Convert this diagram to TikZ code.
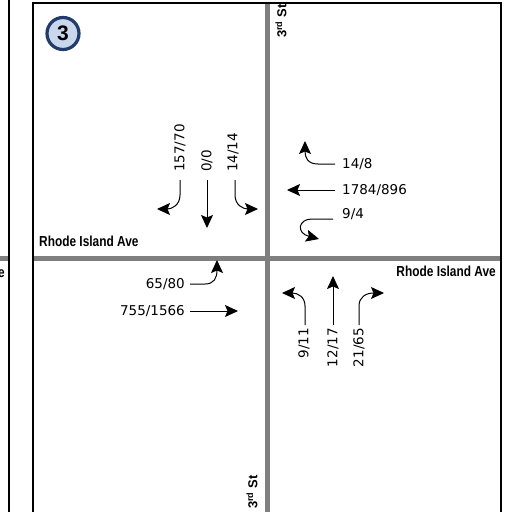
\documentclass[tikz,border=0pt]{standalone}
\usepackage{fontspec}
\setmainfont{DejaVu Sans}
\newfontfamily\roadfont{Liberation Sans}
\usetikzlibrary{arrows.meta}
\definecolor{roadgray}{HTML}{7F7F7F}
\definecolor{circfill}{HTML}{C9D7EC}
\definecolor{circline}{HTML}{233B6A}
\tikzset{
  vol/.style={font=\fontsize{13.5}{14}\selectfont, inner sep=0pt},
  volup/.style={vol, rotate=90},
  arr/.style={line width=1pt, -{Stealth[length=13pt,width=12pt,inset=2.5pt]}},
  road/.style={roadgray, line width=5pt},
  frame/.style={black, line width=1.8pt},
  rname/.style={font=\roadfont\bfseries\fontsize{14.5}{15}\selectfont, inner sep=0pt},
  sname/.style={font=\roadfont\bfseries\fontsize{13}{13}\selectfont, inner sep=0pt, rotate=90}
}
\newcommand{\narrow}[1]{\scalebox{0.82}[1]{#1}}
\begin{document}
\begin{tikzpicture}[x=1pt,y=-1pt]
\useasboundingbox (0,0) rectangle (508,512);
\fill[white] (0,0) rectangle (508,512);
% roads
\draw[road] (33,258) -- (501,258);
\draw[road] (0,258) -- (9,258);
\draw[road] (267,3) -- (267,512);
% frames
\draw[frame] (9,-5) -- (9,520);
\draw[frame] (33,520) -- (33,3) -- (501,3) -- (501,520);
% badge
\node[circle, draw=circline, line width=3.2pt, fill=circfill, minimum size=32pt, inner sep=0pt,
      font=\roadfont\bfseries\fontsize{21}{21}\selectfont] (badge) at (63,33.5) {3};
% street names
\node[rname, anchor=base west] (riw) at (39,246) {\narrow{Rhode Island Ave}};
\node[rname, anchor=base east] (rie) at (496,276) {\narrow{Rhode Island Ave}};
\node[rname, anchor=base east] (rileft) at (5,277) {\narrow{Rhode Island Ave}};
\node[sname, anchor=west] (stn) at (281,38) {3\textsuperscript{rd} St};
\node[sname, anchor=west] (sts) at (252,509) {3\textsuperscript{rd} St};
% southbound
\node[volup, anchor=west] (sbr) at (180,172) {157/70};
\node[volup, anchor=west] (sbt) at (207,172) {0/0};
\node[volup, anchor=west] (sbl) at (233,172) {14/14};
\draw[arr] (180,180) -- (180,195) .. controls (180,205) and (172,209) .. (157,209);
\draw[arr] (207,180) -- (207,228);
\draw[arr] (235,180) -- (235,195) .. controls (235,205) and (243,209) .. (258,209);
% westbound
\node[vol, anchor=west] (wbr) at (342,164) {14/8};
\node[vol, anchor=west] (wbt) at (342,190) {1784/896};
\node[vol, anchor=west] (wbl) at (342,214) {9/4};
\draw[arr] (335,164) -- (318,164) .. controls (308,164) and (305,158) .. (305,141);
\draw[arr] (335,190) -- (287,190);
\draw[arr] (333,219) -- (312,219) .. controls (298,219) and (296,233) .. (319,239);
% eastbound
\node[vol, anchor=east] (ebl) at (185,284) {65/80};
\node[vol, anchor=east] (ebt) at (185,311) {755/1566};
\draw[arr] (190,284) -- (205,284) .. controls (214,284) and (217,278) .. (217,260);
\draw[arr] (190,311) -- (238,311);
% northbound
\node[volup, anchor=east] (nbl) at (304,328) {9/11};
\node[volup, anchor=east] (nbt) at (333,328) {12/17};
\node[volup, anchor=east] (nbr) at (359,328) {21/65};
\draw[arr] (305,325) -- (305,306) .. controls (305,297) and (298,293) .. (282,293);
\draw[arr] (333,325) -- (333,276);
\draw[arr] (359,325) -- (359,306) .. controls (359,297) and (366,293) .. (384,293);
\end{tikzpicture}
\end{document}
